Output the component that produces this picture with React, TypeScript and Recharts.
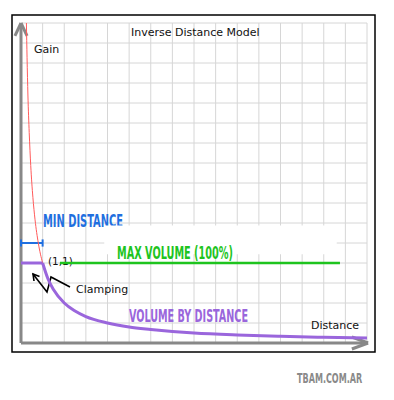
import {
  ComposedChart,
  Line,
  XAxis,
  YAxis,
  CartesianGrid,
  ReferenceLine,
  ReferenceArea,
} from "recharts";

// grid: one cell per distance unit, four cells per gain unit
const xTicks = [0, 1, 2, 3, 4, 5, 6, 7, 8, 9, 10, 11, 12, 13, 14, 15, 16];
const yTicks = [
  0, 0.25, 0.5, 0.75, 1, 1.25, 1.5, 1.75, 2, 2.25, 2.5, 2.75, 3, 3.25, 3.5,
  3.75, 4,
];

// unclamped inverse distance (red)
const rawDist = [0.25, 0.28, 0.32, 0.38, 0.45, 0.55, 0.65, 0.8, 1];
const rawGain = [4, 3.57, 3.1, 2.63, 2.22, 1.82, 1.54, 1.25, 1];

// clamped part below min distance (purple, flat)
const clampDist = [0, 1];
const clampGain = [1, 1];

// volume by distance (purple curve)
const volDist = [1, 1.25, 1.5, 2, 2.5, 3, 4, 5, 6, 8, 10, 12, 14, 16];
const volGain = [
  1, 0.8, 0.67, 0.5, 0.4, 0.33, 0.25, 0.2, 0.17, 0.125, 0.1, 0.083, 0.071,
  0.0625,
];

const minDistance = 1;
const maxVolume = 1;

const zip = (xs: number[], ys: number[]) =>
  xs.map((d, i) => ({ d, g: ys[i] }));

const rawData = zip(rawDist, rawGain);
const clampData = zip(clampDist, clampGain);
const volData = zip(volDist, volGain);

const GRAY = "#888888";
const PURPLE = "#9a66dc";
const GREEN = "#1ec41e";
const BLUE = "#1f6fe0";

const hand = {
  fontFamily: "'DejaVu Sans Condensed', 'DejaVu Sans', sans-serif",
  fontWeight: 700,
  lengthAdjust: "spacingAndGlyphs" as const,
};

const maxVolumeLabel = () => (
  <text x={117} y={259} fontSize={17} fill={GREEN} textLength={116} {...hand}>
    MAX VOLUME (100%)
  </text>
);

export default function App() {
  return (
    <div style={{ position: "absolute", left: 0, top: 0, width: 394, height: 400 }}>
      <ComposedChart
        width={394}
        height={400}
        margin={{ top: 23, right: 27, bottom: 57, left: 21 }}
      >
        <CartesianGrid stroke="#d6d6d6" strokeWidth={1} />
        <XAxis
          type="number"
          dataKey="d"
          domain={[0, 16]}
          ticks={xTicks}
          interval={0}
          allowDataOverflow
          hide
        />
        <YAxis
          type="number"
          dataKey="g"
          domain={[0, 4]}
          ticks={yTicks}
          interval={0}
          allowDataOverflow
          hide
        />

        {/* white band behind the max volume label */}
        <ReferenceArea
          x1={3.85}
          x2={14.6}
          y1={1.11}
          y2={1.47}
          fill="#ffffff"
          fillOpacity={1}
          stroke="none"
          ifOverflow="visible"
          label={maxVolumeLabel}
        />

        {/* axes with arrow heads */}
        <ReferenceLine
          segment={[{ x: 0, y: 0 }, { x: 0, y: 3.99 }]}
          stroke={GRAY}
          strokeWidth={3}
          ifOverflow="visible"
        />
        <ReferenceLine
          segment={[{ x: -0.28, y: 3.84 }, { x: 0, y: 4 }]}
          stroke={GRAY}
          strokeWidth={3}
          ifOverflow="visible"
        />
        <ReferenceLine
          segment={[{ x: 0.28, y: 3.84 }, { x: 0, y: 4 }]}
          stroke={GRAY}
          strokeWidth={3}
          ifOverflow="visible"
        />
        <ReferenceLine
          segment={[{ x: 0, y: 0 }, { x: 16.04, y: 0 }]}
          stroke={GRAY}
          strokeWidth={3}
          ifOverflow="visible"
        />
        <ReferenceLine
          segment={[{ x: 15.3, y: 0.075 }, { x: 16.05, y: 0 }]}
          stroke={GRAY}
          strokeWidth={3}
          ifOverflow="visible"
        />
        <ReferenceLine
          segment={[{ x: 15.3, y: -0.075 }, { x: 16.05, y: 0 }]}
          stroke={GRAY}
          strokeWidth={3}
          ifOverflow="visible"
        />

        {/* max volume */}
        <ReferenceLine
          segment={[{ x: 1.8, y: maxVolume }, { x: 14.75, y: maxVolume }]}
          stroke={GREEN}
          strokeWidth={2.5}
          ifOverflow="visible"
        />

        {/* min distance marker */}
        <ReferenceLine
          segment={[{ x: 0, y: 1.25 }, { x: minDistance, y: 1.25 }]}
          stroke={BLUE}
          strokeWidth={2}
          ifOverflow="visible"
        />
        <ReferenceLine
          segment={[{ x: 0, y: 1.205 }, { x: 0, y: 1.295 }]}
          stroke={BLUE}
          strokeWidth={2}
          ifOverflow="visible"
        />
        <ReferenceLine
          segment={[{ x: minDistance, y: 1.205 }, { x: minDistance, y: 1.295 }]}
          stroke={BLUE}
          strokeWidth={2}
          ifOverflow="visible"
        />

        <Line
          data={rawData}
          dataKey="g"
          type="monotone"
          stroke="#ff5a5a"
          strokeWidth={1}
          dot={false}
          isAnimationActive={false}
        />
        <Line
          data={clampData}
          dataKey="g"
          type="linear"
          stroke={PURPLE}
          strokeWidth={3}
          dot={false}
          isAnimationActive={false}
        />
        <Line
          data={volData}
          dataKey="g"
          type="monotone"
          stroke={PURPLE}
          strokeWidth={3}
          dot={false}
          isAnimationActive={false}
        />

        {/* frame */}
        <rect x={12} y={15} width={363} height={337} fill="none" stroke="#000" strokeWidth={1.5} />

        <g fontFamily="'DejaVu Sans', sans-serif" fill="#111">
          <text x={131} y={36} fontSize={11}>Inverse Distance Model</text>
          <text x={34} y={53} fontSize={11}>Gain</text>
          <text x={311} y={329} fontSize={11}>Distance</text>
          <text x={48} y={265} fontSize={10.5}>(1,1)</text>
          <text x={76} y={293} fontSize={11}>Clamping</text>
        </g>

        {/* clamping arrow */}
        <polyline
          points="70,287 51,277 47,292 33,274"
          fill="none"
          stroke="#000"
          strokeWidth={1.6}
        />
        <polyline points="34,281 33,274 39.5,276.5" fill="none" stroke="#000" strokeWidth={1.6} />

        <text x={43} y={227} fontSize={17} fill={BLUE} textLength={80} {...hand}>
          MIN DISTANCE
        </text>
        <text x={129} y={322} fontSize={17} fill={PURPLE} textLength={119} {...hand}>
          VOLUME BY DISTANCE
        </text>
        <text
          transform="translate(297,383) scale(0.64,1)"
          fontSize={14}
          fill="#8a8a8a"
          fontFamily="'DejaVu Sans Condensed', 'DejaVu Sans', sans-serif"
          fontWeight={700}
        >
          TBAM.COM.AR
        </text>
      </ComposedChart>
    </div>
  );
}
